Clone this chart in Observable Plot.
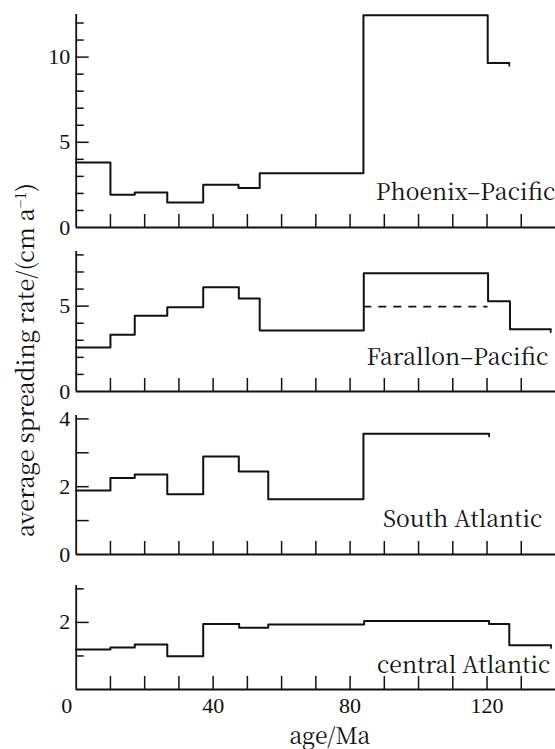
<!DOCTYPE html>
<html>
<head>
<meta charset="utf-8">
<script src="https://cdn.jsdelivr.net/npm/d3@7"></script>
<script src="https://cdn.jsdelivr.net/npm/@observablehq/plot@0.6"></script>
<style>
  html, body { margin: 0; padding: 0; background: white; }
  #chart { position: relative; width: 555px; height: 749px; background: white; overflow: hidden; }
  #chart .panel { position: absolute; left: 0; }
  #ylabel {
    position: absolute; left: 25px; top: 360px;
    transform: translate(-50%, -50%) rotate(-90deg);
    white-space: nowrap; font-family: "Noto Serif CJK SC", "Liberation Serif", serif; font-size: 23.5px; color: #111;
    line-height: 1; z-index: 5;
  }
  #ylabel sup { font-size: 0.62em; vertical-align: 0.55em; line-height: 0; }
</style>
</head>
<body>
<div id="chart"><div id="ylabel">average spreading rate/(cm a<sup>−1</sup>)</div></div>
<script>
// ---- data (age in Ma, rate in cm/a) ----
const xTickValues = [10, 20, 30, 40, 50, 60, 70, 80, 90, 100, 110, 120, 130];
const xTickLabels = [40, 80, 120];
const xZeroLabel = [0];

const phoenixStarts = [0, 10, 17.1, 26.6, 37.1, 47.4, 53.6, 83.9, 120.2];
const phoenixRates  = [3.82, 1.92, 2.06, 1.47, 2.51, 2.32, 3.18, 12.45, 9.65];
const phoenixEnd = 126.5;

const farallonStarts = [0, 10, 17.1, 26.6, 37.1, 47.5, 53.6, 84.0, 120.3, 126.7];
const farallonRates  = [2.57, 3.33, 4.44, 4.93, 6.10, 5.44, 3.57, 6.92, 5.28, 3.64];
const farallonEnd = 138.6;
const farallonAltStarts = [84.0];
const farallonAltEnds   = [120.3];
const farallonAltRates  = [4.97];

const southStarts = [0, 10, 17.1, 26.6, 37.1, 47.5, 56.1, 83.9];
const southRates  = [1.89, 2.26, 2.36, 1.78, 2.89, 2.45, 1.63, 3.56];
const southEnd = 120.6;

const centralStarts = [0, 10, 17.1, 26.6, 37.1, 47.6, 56.1, 84.1, 120.6, 126.5];
const centralRates  = [1.19, 1.25, 1.34, 0.99, 1.95, 1.84, 1.94, 2.04, 1.95, 1.32];
const centralEnd = 138.7;

const names = ["Phoenix–Pacific", "Farallon–Pacific", "South Atlantic", "central Atlantic"];
const yMax = [12.5, 8.2, 4.1, 3.1];
const yLabels = [[0, 5, 10], [0, 5], [0, 2, 4], [2]];
const yMajorTicks = [[5, 10], [5], [1, 2, 3, 4], [2]];
const yMinorTicks = [[1, 2, 3, 4, 6, 7, 8, 9, 11, 12], [1, 2, 3, 4, 6, 7, 8], [], [1, 3]];

// ---- layout ----
const wordFont = "Noto Serif CJK SC";
const numFont = "Liberation Serif";
const layout = [
  {top: 0,   height: 232, mt: 14, mb: 5,  labelDy: -28, labelDx: 0},
  {top: 232, height: 164, mt: 19, mb: 5,  labelDy: -27, labelDx: -7},
  {top: 396, height: 164, mt: 19, mb: 6,  labelDy: -28, labelDx: -13},
  {top: 560, height: 189, mt: 25, mb: 60, labelDy: -17, labelDx: -5}
];

function steps(starts, rates, end) {
  const pts = starts.map((s, i) => ({age: s, rate: rates[i]}));
  pts.push({age: end, rate: rates[rates.length - 1]});
  return pts;
}

const series = [
  {data: steps(phoenixStarts, phoenixRates, phoenixEnd), end: phoenixEnd, last: phoenixRates.at(-1)},
  {data: steps(farallonStarts, farallonRates, farallonEnd), end: farallonEnd, last: farallonRates.at(-1),
   alt: farallonAltStarts.map((s, i) => ({a1: s, a2: farallonAltEnds[i], rate: farallonAltRates[i]}))},
  {data: steps(southStarts, southRates, southEnd), end: southEnd, last: southRates.at(-1)},
  {data: steps(centralStarts, centralRates, centralEnd), end: centralEnd, last: centralRates.at(-1)}
];

const ink = "#111";
const chart = document.getElementById("chart");

series.forEach((s, p) => {
  const L = layout[p];
  const isBottom = p === 3;
  const marks = [
    Plot.ruleX([0], {stroke: ink, strokeWidth: 1.8}),
    Plot.ruleY([0], {stroke: ink, strokeWidth: 1.8}),
    Plot.ruleY(yMajorTicks[p], {y: d => d, x1: 0, x2: 0, insetRight: -13, stroke: ink, strokeWidth: 1.5}),
    Plot.ruleY(yMinorTicks[p], {y: d => d, x1: 0, x2: 0, insetRight: -8, stroke: ink, strokeWidth: 1.5}),
    Plot.ruleX(xTickValues, {x: d => d, y1: 0, y2: 0, insetTop: -13, stroke: ink, strokeWidth: 1.5}),
    Plot.line(s.data, {x: "age", y: "rate", curve: "step-after", stroke: ink, strokeWidth: 2}),
    Plot.ruleX([s.end], {x: d => d, y1: s.last, y2: s.last, insetBottom: -4, stroke: ink, strokeWidth: 1.7}),
    Plot.text([names[p]], {text: d => d, frameAnchor: "bottom-right", textAnchor: "end", lineAnchor: "bottom",
      dy: L.labelDy, dx: L.labelDx, fontFamily: wordFont, fontSize: 23, fill: ink})
  ];
  if (s.alt) {
    marks.push(Plot.ruleY(s.alt, {y: "rate", x1: "a1", x2: "a2", stroke: ink, strokeWidth: 1.7, strokeDasharray: "8,7"}));
  }
  if (isBottom) {
    marks.push(Plot.text(xZeroLabel, {x: d => d, y: 0, text: d => String(d), textAnchor: "end", lineAnchor: "top",
      dx: -4, dy: 8, fontFamily: numFont, fontSize: 22, fill: ink}));
    marks.push(Plot.text(["age/Ma"], {text: d => d, frameAnchor: "bottom", textAnchor: "middle", lineAnchor: "bottom",
      dx: 14, dy: 54, fontFamily: wordFont, fontSize: 23, fill: ink}));
  }
  const svg = Plot.plot({
    width: 555,
    height: L.height,
    marginLeft: 75.7,
    marginRight: 0,
    marginTop: L.mt,
    marginBottom: L.mb,
    style: {fontFamily: numFont, fontSize: "22px", color: ink, background: "transparent", overflow: "visible"},
    x: isBottom
      ? {domain: [0, 140], ticks: xTickLabels, tickSize: 0, tickPadding: 8, label: null, tickFormat: d => String(d)}
      : {domain: [0, 140], axis: null},
    y: {domain: [0, yMax[p]], ticks: yLabels[p], tickSize: 0, tickPadding: 6, label: null, tickFormat: d => String(d)},
    marks
  });
  svg.classList.add("panel");
  svg.style.top = L.top + "px";
  chart.appendChild(svg);
});
</script>
</body>
</html>
